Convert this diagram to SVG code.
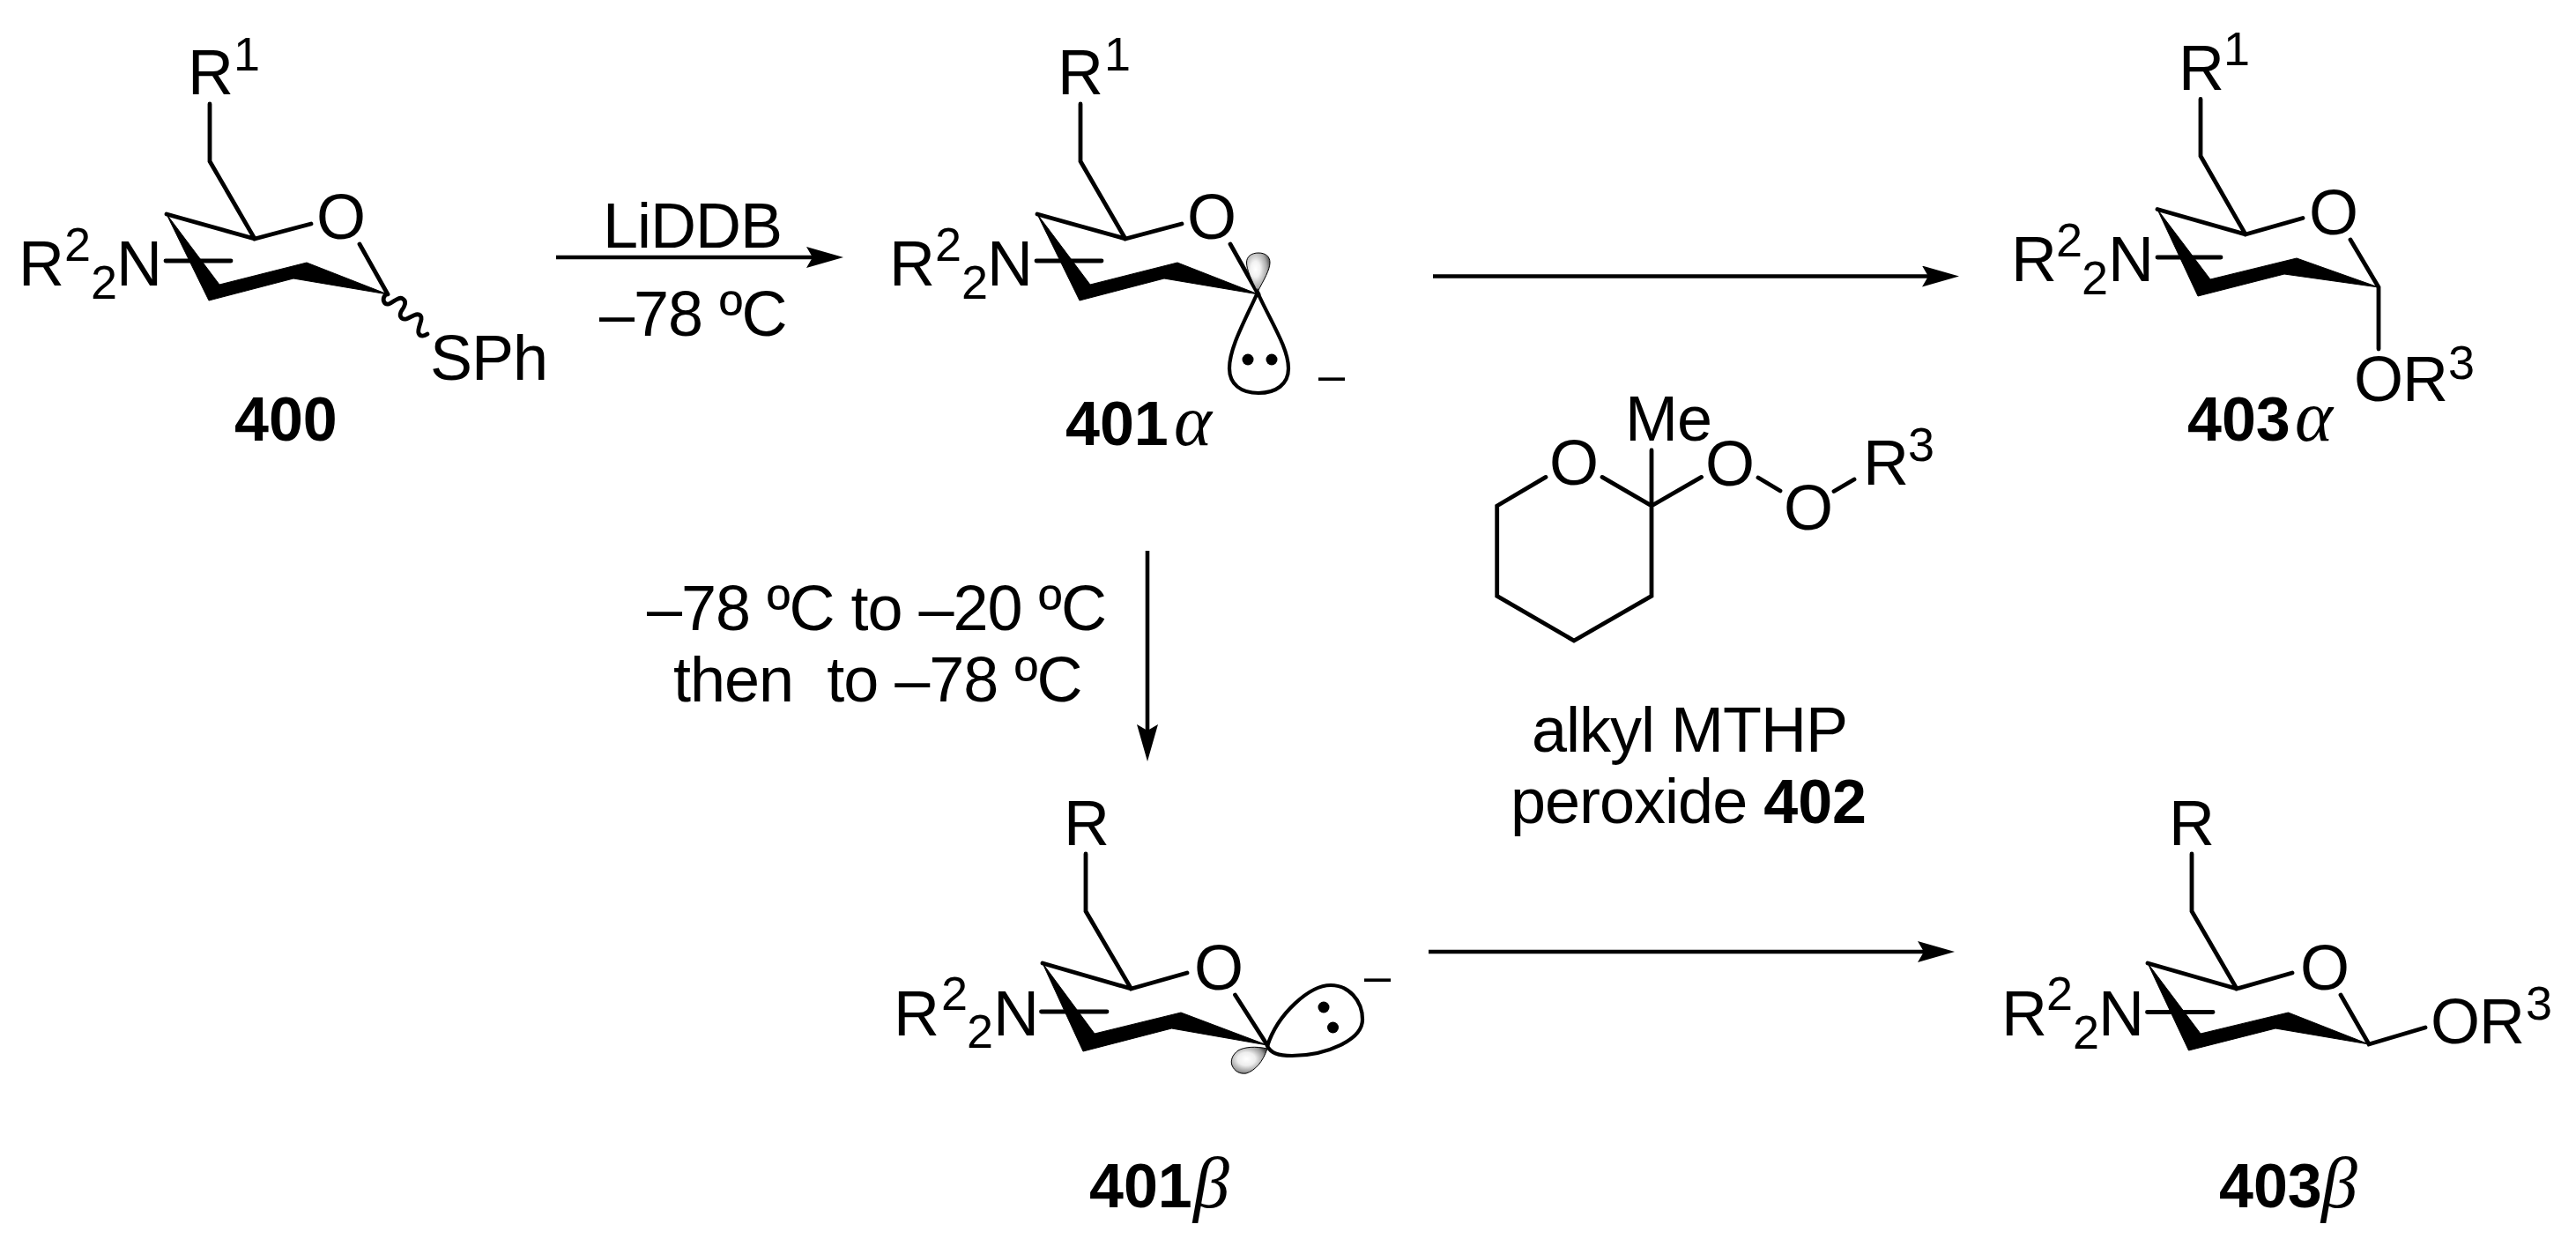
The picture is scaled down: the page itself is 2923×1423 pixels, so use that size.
<svg xmlns="http://www.w3.org/2000/svg" width="2923" height="1423" viewBox="0 0 2923 1423">
<defs>
<style>
text{font-family:"Liberation Sans",Arial,sans-serif;font-size:72px;letter-spacing:-1px;fill:#000}
.s{font-size:54px;letter-spacing:0}
.b{font-weight:700;font-size:70px;letter-spacing:0}
.g{font-family:"Liberation Serif","Times New Roman",serif;font-style:italic;font-weight:400;font-size:82px;letter-spacing:0}
.bond{fill:none;stroke:#000;stroke-width:4.8;stroke-linecap:round;stroke-linejoin:miter}
.ring{fill:#000;stroke:#000;stroke-width:1;stroke-linejoin:miter}
.lobe{fill:none;stroke:#000;stroke-width:4.2}
.shade{stroke:#000;stroke-width:1}
.arrow{fill:none;stroke:#000;stroke-width:4.6;marker-end:url(#head)}
.wavy{fill:none;stroke:#000;stroke-width:4.8;stroke-linecap:round}
</style>
<radialGradient id="shadeA" cx="0.38" cy="0.42" r="0.68"><stop offset="0" stop-color="#fff"/><stop offset="0.3" stop-color="#f2f2f2"/><stop offset="0.7" stop-color="#aaa"/><stop offset="1" stop-color="#444"/></radialGradient>
<radialGradient id="shadeB" cx="0.42" cy="0.45" r="0.62"><stop offset="0" stop-color="#fff"/><stop offset="0.4" stop-color="#eee"/><stop offset="0.8" stop-color="#999"/><stop offset="1" stop-color="#444"/></radialGradient>
<marker id="head" markerUnits="userSpaceOnUse" markerWidth="42" markerHeight="24" viewBox="0 0 42 24" refX="8" refY="12" orient="auto"><polygon points="0,0 42,12 0,24 7,12" fill="#000"/></marker>
</defs>
<rect width="2923" height="1423" fill="#fff"/>
<g id="connectors">
<line class="arrow" x1="631" y1="292" x2="923" y2="292"/>
<line class="arrow" x1="1626" y1="313.5" x2="2189" y2="313.5"/>
<line class="arrow" x1="1302" y1="625" x2="1302" y2="830"/>
<line class="arrow" x1="1621" y1="1080" x2="2184" y2="1080"/>
</g>
<g id="cond-lidbb">
<text x="684" y="281">LiDDB</text>
<text x="680" y="381">–78 ºC</text>
</g>
<g id="cond-warm">
<text x="734" y="715">–78 ºC to –20 ºC</text>
<text x="764" y="796" xml:space="preserve">then  to –78 ºC</text>
</g>
<g id="mol-400">
<path class="bond" d="M238 118V183L289 271L353 254M289 271L189 243M408 277L440 334"/>
<path class="bond" d="M188 296H262"/>
<polygon class="ring" points="189,243 249,323 348,298 440,334 333,316 237,341"/>
<path class="wavy" d="M437 335C433 340 436 346 441 345C447 343 452 336 457 339C462 342 459 348 456 352C452 358 455 363 461 362C467 360 473 354 477 358C481 362 473 372 475 378C477 383 482 381 485 379"/>
<text><tspan x="213" y="107">R</tspan><tspan class="s" x="265" y="80">1</tspan></text>
<text><tspan x="21" y="324">R</tspan><tspan class="s" x="73" y="296">2</tspan><tspan class="s" x="103" y="339">2</tspan><tspan x="132" y="324">N</tspan></text>
<text x="359" y="271">O</text>
<text x="488" y="431">SPh</text>
<text class="b" x="266" y="500">400</text>
</g>
<g id="mol-401a">
<path class="bond" d="M1226 118V183L1277 271L1341 254M1277 271L1177 243M1396 277L1428 334"/>
<path class="bond" d="M1176 296H1250"/>
<polygon class="ring" points="1177,243 1237,323 1336,298 1428,334 1321,316 1225,341"/>
<path class="shade" fill="url(#shadeA)" d="M1427 331C1420 318 1414.500 306 1414.500 298C1414.500 291 1420 287 1428 287C1436 287 1441 291 1441 298C1441 306 1434 318 1427 331Z"/>
<path class="lobe" d="M1427 332C1412 365 1395 395 1395 418C1395 436 1408 446 1428 446C1448 446 1462 436 1462 418C1462 395 1442 365 1427 332Z"/>
<circle cx="1416" cy="408" r="6.500"/>
<circle cx="1443" cy="408" r="6.500"/>
<text class="s" x="1496" y="444">–</text>
<text><tspan x="1200" y="107">R</tspan><tspan class="s" x="1253" y="80">1</tspan></text>
<text><tspan x="1009" y="324">R</tspan><tspan class="s" x="1061" y="296">2</tspan><tspan class="s" x="1091" y="339">2</tspan><tspan x="1120" y="324">N</tspan></text>
<text x="1347" y="271">O</text>
<text><tspan class="b" x="1209" y="505">401</tspan><tspan class="g" x="1332" y="505">α</tspan></text>
</g>
<g id="mol-401b">
<path class="bond" d="M1232 969V1034L1283.500 1122L1347 1104M1283.500 1122L1183 1093M1401.500 1129L1438 1186"/>
<path class="bond" d="M1181.500 1148H1256"/>
<polygon class="ring" points="1183,1093 1242,1173 1340,1149 1438,1186 1329.500,1167 1229,1193"/>
<path class="shade" fill="url(#shadeB)" d="M1438 1190C1425 1187 1412 1188 1405 1192C1398 1197 1396 1204 1398 1209C1401 1216 1407 1219 1414 1218C1424 1215 1433 1205 1438 1190Z"/>
<path class="lobe" d="M1438 1187C1450 1150 1486 1118 1510 1118C1530 1118 1546 1135 1546 1157C1546 1180 1505 1198 1466 1198C1450 1198 1442 1195 1438 1187Z"/>
<circle cx="1502" cy="1143" r="6.500"/>
<circle cx="1512.500" cy="1166" r="6.500"/>
<text class="s" x="1548" y="1126">–</text>
<text x="1207" y="959">R</text>
<text><tspan x="1014" y="1175">R</tspan><tspan class="s" x="1068" y="1146">2</tspan><tspan class="s" x="1097" y="1189">2</tspan><tspan x="1127" y="1175">N</tspan></text>
<text x="1355" y="1123">O</text>
<text><tspan class="b" x="1236" y="1370">401</tspan><tspan class="g" x="1354" y="1370">β</tspan></text>
</g>
<g id="mol-402">
<path class="bond" d="M1754 541.400L1698.700 574V676.400L1786 727L1874 676.400V574L1818 541.400M1874 574L1930.600 541.400M1874 511V574M1995 542L2020 557M2081 557.500L2104 544"/>
<text x="1758" y="550">O</text>
<text x="1935" y="551">O</text>
<text x="1844" y="500">Me</text>
<text x="2024" y="601">O</text>
<text><tspan x="2114" y="550">R</tspan><tspan class="s" x="2165" y="523">3</tspan></text>
<text x="1738" y="853">alkyl MTHP</text>
<text x="1714" y="934">peroxide <tspan class="b">402</tspan></text>
</g>
<g id="mol-403a">
<path class="bond" d="M2497 112.500V177L2548 266L2613 247.500M2548 266L2448 237.500M2667 272L2699 326V396"/>
<path class="bond" d="M2448 292H2520"/>
<polygon class="ring" points="2448,237.500 2508,317 2606,293 2699,326 2592,311 2494,336"/>
<text><tspan x="2472" y="102">R</tspan><tspan class="s" x="2523" y="74">1</tspan></text>
<text><tspan x="2282" y="319">R</tspan><tspan class="s" x="2333" y="291">2</tspan><tspan class="s" x="2362" y="334">2</tspan><tspan x="2392" y="319">N</tspan></text>
<text x="2620" y="266">O</text>
<text><tspan x="2671" y="455">OR</tspan><tspan class="s" x="2778" y="430">3</tspan></text>
<text><tspan class="b" x="2482" y="500">403</tspan><tspan class="g" x="2604" y="500">α</tspan></text>
</g>
<g id="mol-403b">
<path class="bond" d="M2487 969V1034L2538 1122L2601 1104M2538 1122L2437 1093M2656 1129L2688 1185L2752 1166"/>
<path class="bond" d="M2436.500 1148.500H2511"/>
<polygon class="ring" points="2437,1093 2497,1173 2596.500,1149 2688,1185 2582,1167 2483.500,1192"/>
<text x="2461" y="959">R</text>
<text><tspan x="2271" y="1175">R</tspan><tspan class="s" x="2322" y="1146">2</tspan><tspan class="s" x="2352" y="1190">2</tspan><tspan x="2381" y="1175">N</tspan></text>
<text x="2610" y="1123">O</text>
<text><tspan x="2758" y="1184">OR</tspan><tspan class="s" x="2866" y="1157">3</tspan></text>
<text><tspan class="b" x="2518" y="1370">403</tspan><tspan class="g" x="2634" y="1370">β</tspan></text>
</g>
</svg>
